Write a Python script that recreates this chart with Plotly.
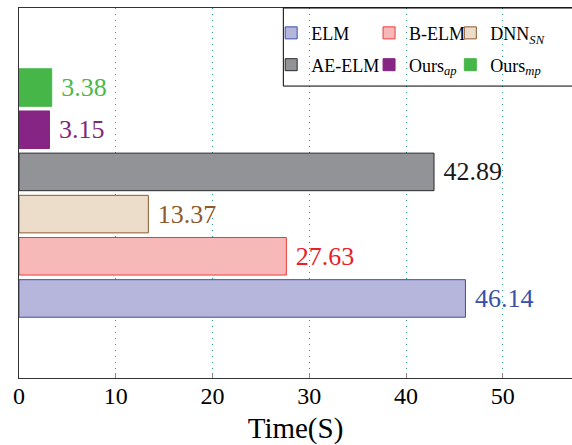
import plotly.graph_objects as go

methods = ["ELM", "B-ELM", "DNN<sub><i>SN</i></sub>", "AE-ELM", "Ours<sub><i>ap</i></sub>", "Ours<sub><i>mp</i></sub>"]
times = [46.14, 27.63, 13.37, 42.89, 3.15, 3.38]
fills = ["#b6b6dc", "#f7b8b8", "#ecdcca", "#929397", "#862583", "#46b649"]
edges = ["#3a4fa6", "#ee3a3a", "#8c5a2c", "#2a2a2a", "#862583", "#46b649"]
text_colors = ["#3a4fa6", "#e8202a", "#8c5a2c", "#1a1a1a", "#7d2a7d", "#4cb84c"]
category = ["Time"]
xticks = [0, 10, 20, 30, 40, 50]

FONT = "Liberation Serif"

# legend layout: 3 columns x 2 rows inside a framed box (top-right of plot)
legend_cols = [0.456, 0.633, 0.780]
legend_rows = [0.932, 0.846]
legend_ids = ["legend", "legend2", "legend3", "legend4", "legend5", "legend6"]

fig = go.Figure()
for i, (name, t, fc, ec, tc) in enumerate(zip(methods, times, fills, edges, text_colors)):
    fig.add_trace(go.Bar(
        y=category, x=[t], orientation="h", name=name, legend=legend_ids[i],
        marker=dict(color=fc, line=dict(color=ec, width=1)),
        text=[f"\u00a0{t:.2f}"], textposition="outside",
        outsidetextfont=dict(color=tc, size=26, family=FONT),
        cliponaxis=False,
    ))

legends = {}
for i, lid in enumerate(legend_ids):
    legends[lid] = dict(
        x=legend_cols[i % 3], xanchor="left", y=legend_rows[i // 3], yanchor="middle",
        bgcolor="rgba(0,0,0,0)", borderwidth=0,
        font=dict(size=18, family=FONT, color="black"), itemwidth=30,
    )

fig.update_layout(
    width=572, height=445,
    margin=dict(l=19, r=0, t=8, b=67),
    barmode="group", bargap=0.316, bargroupgap=0.11,
    plot_bgcolor="white", paper_bgcolor="white",
    font=dict(family=FONT, size=24, color="black"),
    showlegend=True,
    **legends,
    shapes=[dict(
        type="rect", xref="paper", yref="paper",
        x0=0.478, x1=1.02, y0=0.789, y1=1.0,
        line=dict(color="black", width=1), fillcolor="rgba(0,0,0,0)", layer="above",
    )],
    xaxis=dict(
        range=[0, 57.15], tickvals=xticks, ticks="inside", ticklen=5,
        tickcolor="#8a8a8a", ticklabelstandoff=-4,
        showgrid=True, gridcolor="#2c9a7e", griddash="1px,5px", gridwidth=1,
        showline=True, linecolor="#333333", linewidth=1, mirror=True,
        zeroline=False, title=dict(text="Time(S)", font=dict(size=29), standoff=11),
        tickfont=dict(size=24),
    ),
    yaxis=dict(
        range=[-0.5, 0.5], showticklabels=False, ticks="",
        showgrid=False, showline=True, linecolor="#333333", linewidth=1, mirror=True,
    ),
)

fig.write_html("out.html", post_script="document.body.style.margin='0';",
               config={"displayModeBar": False})
